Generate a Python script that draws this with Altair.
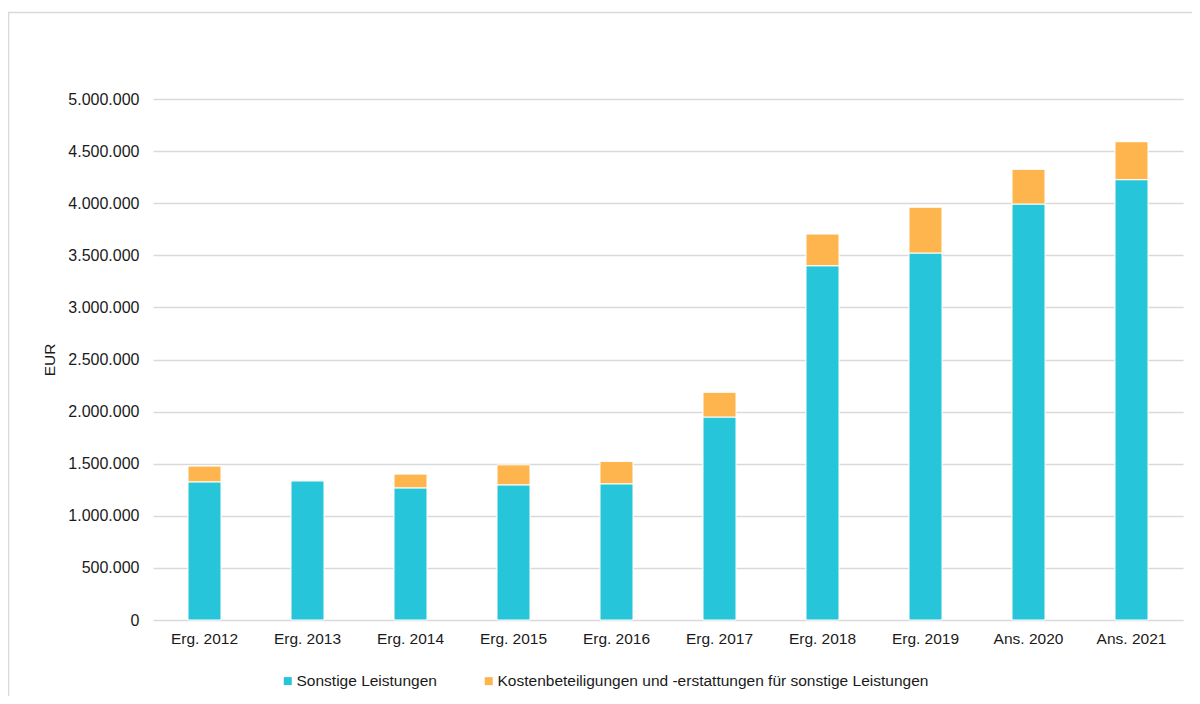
import altair as alt
import pandas as pd

categories = ["Erg. 2012", "Erg. 2013", "Erg. 2014", "Erg. 2015", "Erg. 2016",
              "Erg. 2017", "Erg. 2018", "Erg. 2019", "Ans. 2020", "Ans. 2021"]
sonstige = [1326000, 1336000, 1268000, 1297000, 1307000,
            1948000, 3400000, 3522000, 3992000, 4226000]
kosten = [151000, 7000, 132000, 192000, 215000,
          237000, 304000, 439000, 333000, 364000]
series_names = ["Sonstige Leistungen",
                "Kostenbeteiligungen und -erstattungen für sonstige Leistungen"]
colors = ["#26C5D9", "#FFB54D"]

rows = []
for c, s, k in zip(categories, sonstige, kosten):
    rows.append({"cat": c, "series": series_names[0], "value": s, "ord": 0})
    rows.append({"cat": c, "series": series_names[1], "value": k, "ord": 1})
df = pd.DataFrame(rows)

FONT = "Liberation Sans"
TXT = "#1a1a1a"

bars = alt.Chart(df).mark_bar(size=33, stroke="white", strokeWidth=1).encode(
    x=alt.X("cat:N", sort=categories, title=None,
            axis=alt.Axis(labelAngle=0, ticks=False, domain=False, grid=False,
                          labelPadding=11, labelFontSize=15.5, labelFont=FONT,
                          labelColor=TXT)),
    y=alt.Y("value:Q", stack="zero", title="EUR",
            scale=alt.Scale(domain=[0, 5000000], nice=False),
            axis=alt.Axis(values=[i * 500000 for i in range(11)], ticks=False,
                          domain=False, gridColor="#d9d9d9", gridWidth=1.5,
                          labelPadding=14, labelFontSize=16, labelFont=FONT,
                          labelColor=TXT,
                          labelExpr="replace(format(datum.value, ',d'), regexp(',', 'g'), '.')",
                          titleFontSize=15.5, titleFont=FONT, titleFontWeight="normal",
                          titleColor=TXT, titlePadding=10)),
    color=alt.Color("series:N", sort=series_names,
                    scale=alt.Scale(domain=series_names, range=colors),
                    legend=alt.Legend(title=None, orient="none", direction="horizontal",
                                      legendX=127, legendY=574,
                                      symbolType="square", symbolSize=64,
                                      symbolStrokeWidth=0,
                                      labelFontSize=15.5, labelFont=FONT,
                                      labelColor=TXT, labelOffset=1,
                                      columnPadding=44, labelLimit=1000)),
    order=alt.Order("ord:Q"),
)

frame = alt.Chart(alt.Data(values=[{"a": 1}])).mark_rect(
    fillOpacity=0, stroke="#d9d9d9", strokeWidth=1.5
).encode(
    x=alt.value(-144.5), x2=alt.value(1060),
    y=alt.value(-86.5), y2=alt.value(700),
)

chart = alt.layer(frame, bars).properties(
    width=1030, height=521,
    autosize=alt.AutoSizeParams(type="none"),
    padding={"left": 145, "top": 91, "right": 9, "bottom": 76},
).configure_view(stroke=None)

chart.save("out.html", embed_options={"renderer": "svg", "actions": False})
